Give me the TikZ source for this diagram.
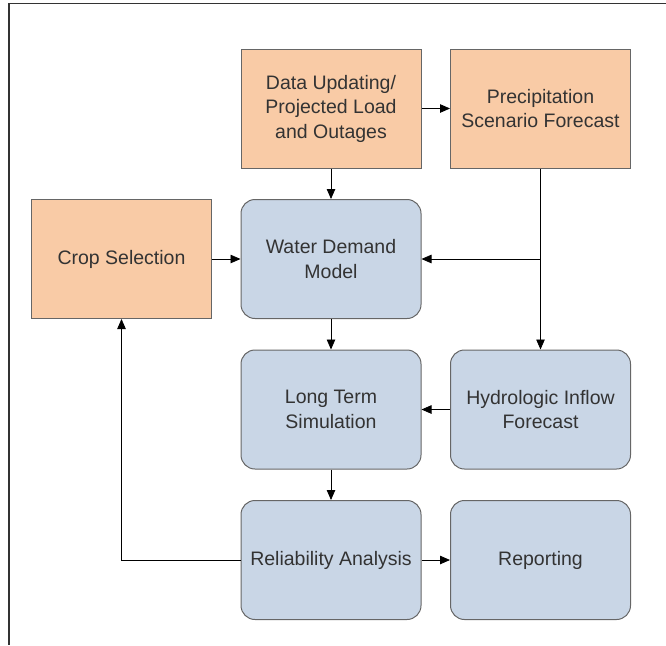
\documentclass[tikz,border=0pt]{standalone}
\usepackage{fontspec}
\setmainfont{Liberation Sans}
\usetikzlibrary{positioning,arrows.meta}
\definecolor{peach}{HTML}{F9CBA6}
\definecolor{steel}{HTML}{C9D6E6}
\definecolor{edge}{HTML}{666666}
\definecolor{ink}{HTML}{333333}
\tikzset{
  box/.style={draw=edge,line width=1pt,minimum width=180pt,minimum height=119pt,
    align=center,text=ink,font=\fontsize{19.5}{24.5}\selectfont,inner sep=0pt},
  inbox/.style={box,fill=peach},
  simbox/.style={box,fill=steel,rounded corners=14pt},
  flow/.style={-{Triangle[length=10pt,width=8.5pt]},line width=0.8pt}
}
\def\dflow{\draw[flow]}

\begin{document}
\begin{tikzpicture}[x=1pt,y=-1pt,node distance=30.5pt and 28.5pt]
  \useasboundingbox (0,0) rectangle (666,645);
  \draw[ink,line width=1.3pt] (666,3.5) -- (9,3.5) -- (9,645);
  % input boxes
  \node[inbox] (data) at (331,108.5) {Data Updating/\\Projected Load\\and Outages};
  \node[inbox,right=of data] (precip) {Precipitation\\Scenario Forecast};
  % model boxes
  \node[simbox,below=of data] (water) {Water Demand\\Model};
  \node[inbox,left=of water] (crop) {Crop Selection};
  \node[simbox,below=of water] (longterm) {Long Term\\Simulation};
  \node[simbox,right=of longterm] (inflow) {Hydrologic Inflow\\Forecast};
  \node[simbox,below=of longterm] (reliab) {Reliability Analysis};
  \node[simbox,right=of reliab] (report) {Reporting};
  \coordinate (split) at (precip.south |- water.east);
  % connectors
  \dflow (data) -- (precip);
  \dflow (data) -- (water);
  \dflow (crop) -- (water);
  \draw[line width=0.8pt] (precip.south) -- (split);
  \dflow (split) -- (water.east);
  \dflow (split) -- (inflow.north);
  \dflow (water) -- (longterm);
  \dflow (inflow) -- (longterm);
  \dflow (longterm) -- (reliab);
  \dflow (reliab) -- (report);
  \dflow (reliab.west) -| (crop.south);
\end{tikzpicture}
\end{document}
